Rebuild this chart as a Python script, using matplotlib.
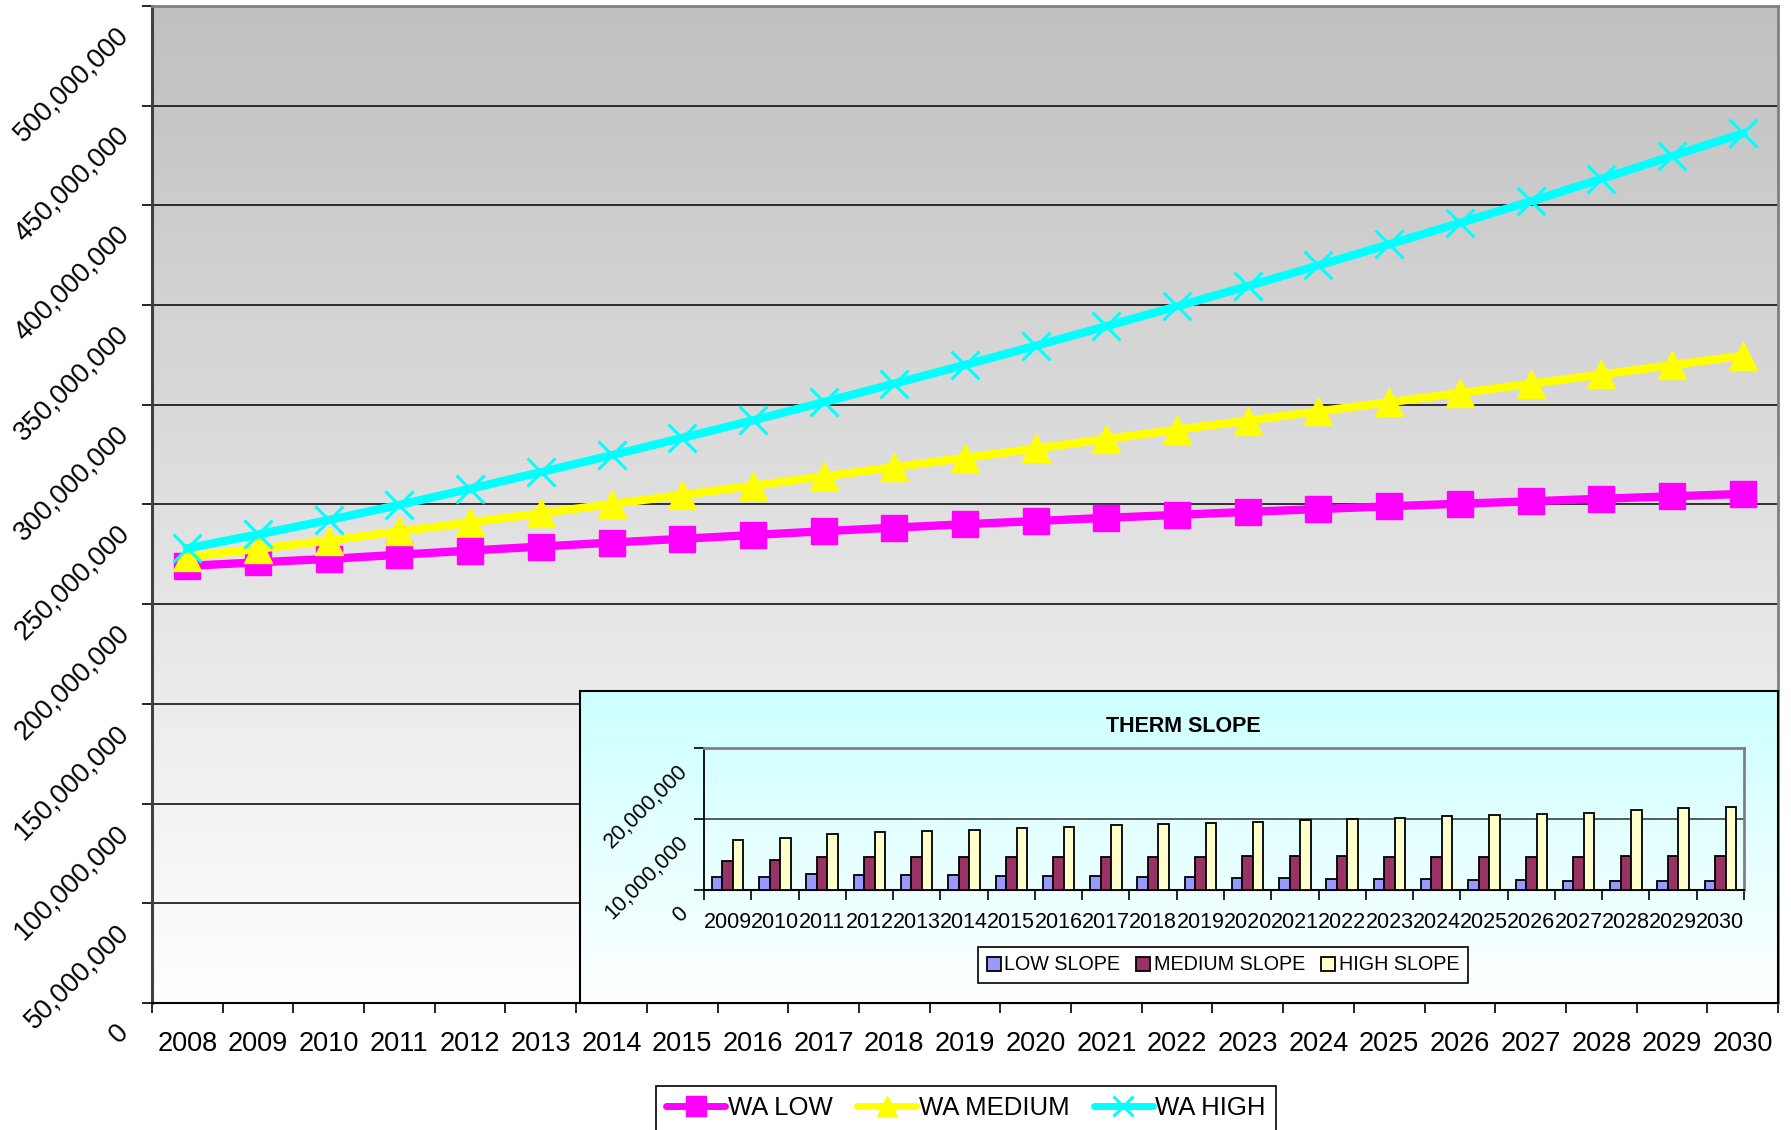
import numpy as np
import matplotlib
matplotlib.use("Agg")
import matplotlib.pyplot as plt
import matplotlib.transforms as mtransforms
from matplotlib.colors import LinearSegmentedColormap
from matplotlib.lines import Line2D
from matplotlib.patches import Patch

plt.rcParams['font.family'] = ['Liberation Sans', 'DejaVu Sans']

# Annual therm load, millions of therms
years = ['2008', '2009', '2010', '2011', '2012', '2013', '2014', '2015', '2016', '2017', '2018',
         '2019', '2020', '2021', '2022', '2023', '2024', '2025', '2026', '2027', '2028', '2029', '2030']
wa_low = [219.2, 221.0, 222.7, 224.8, 226.9, 228.9, 230.9, 232.8, 234.7, 236.6, 238.4, 240.1,
          241.7, 243.3, 244.8, 246.3, 247.7, 249.1, 250.4, 251.6, 252.9, 254.1, 255.3]
wa_medium = [223.7, 227.8, 231.9, 236.5, 241.0, 245.6, 250.2, 254.8, 259.4, 264.1, 268.7, 273.4,
             278.1, 282.8, 287.5, 292.1, 296.7, 301.3, 305.9, 310.5, 315.2, 319.9, 324.6]
wa_high = [228.0, 235.0, 242.2, 249.8, 257.9, 266.2, 274.7, 283.4, 292.2, 301.3, 310.6, 320.0,
           329.6, 339.4, 349.4, 359.5, 369.9, 380.5, 391.2, 402.0, 413.3, 424.7, 436.1]

# Year-over-year growth (therm slope), millions of therms
slope_years = ['2009', '2010', '2011', '2012', '2013', '2014', '2015', '2016', '2017', '2018', '2019',
               '2020', '2021', '2022', '2023', '2024', '2025', '2026', '2027', '2028', '2029', '2030']
low_slope = [1.82, 1.82, 2.19, 2.14, 2.10, 2.05, 2.00, 1.96, 1.91, 1.86, 1.77,
             1.67, 1.72, 1.53, 1.53, 1.49, 1.40, 1.35, 1.30, 1.30, 1.30, 1.21]
medium_slope = [4.15, 4.20, 4.62, 4.62, 4.66, 4.66, 4.66, 4.66, 4.71, 4.71, 4.71,
                4.79, 4.79, 4.74, 4.70, 4.70, 4.65, 4.65, 4.65, 4.74, 4.79, 4.79]
high_slope = [7.09, 7.37, 7.93, 8.11, 8.30, 8.48, 8.67, 8.86, 9.09, 9.28, 9.42,
              9.58, 9.81, 9.95, 10.19, 10.37, 10.56, 10.70, 10.88, 11.21, 11.49, 11.72]

W, H = 1791, 1130
fig = plt.figure(figsize=(W / 100, H / 100), dpi=100)


def frac(x0, y0, x1, y1):
    return [x0 / W, 1 - y1 / H, (x1 - x0) / W, (y1 - y0) / H]


def comma(v):
    return f"{v:,.0f}"


def tilt_labels(labels, dy_px):
    off = mtransforms.ScaledTranslation(0, -dy_px / 100, fig.dpi_scale_trans)
    for lab in labels:
        lab.set_rotation(45)
        lab.set_rotation_mode('anchor')
        lab.set_ha('right')
        lab.set_va('top')
        lab.set_transform(lab.get_transform() + off)


# ---------------- main line chart ----------------
ax = fig.add_axes(frac(152, 6, 1778, 1003))
ax.set_xlim(-0.5, len(years) - 0.5)
ax.set_ylim(0, 500e6)

grad = np.linspace(0, 1, 256).reshape(-1, 1)
bg = LinearSegmentedColormap.from_list('bg', ['#c0c0c0', '#ffffff'])
ax.imshow(grad, extent=[0, 1, 0, 1], transform=ax.transAxes, aspect='auto',
          cmap=bg, origin='upper', zorder=0)

yt = np.arange(0, 500e6 + 1, 50e6)
ax.set_yticks(yt)
ax.set_yticklabels([comma(v) for v in yt])
ax.yaxis.grid(True, color='black', lw=1.1, zorder=1)
ax.set_axisbelow(True)

ax.set_xticks(np.arange(-0.5, len(years), 1))
ax.set_xticklabels([])
ax.set_xticks(np.arange(len(years)), minor=True)
ax.set_xticklabels(years, minor=True, fontsize=19.5)
ax.tick_params(axis='x', which='major', length=7, width=1.2, direction='out')
ax.tick_params(axis='x', which='minor', length=0, pad=20)
ax.tick_params(axis='y', length=7, width=1.2, direction='out', labelsize=19.5, pad=19)
tilt_labels(ax.get_yticklabels(), 16)

for s in ('top', 'right'):
    ax.spines[s].set_color('#808080')
    ax.spines[s].set_linewidth(2)
ax.spines['left'].set_color('#404040')
ax.spines['left'].set_linewidth(2.2)
ax.spines['bottom'].set_color('black')
ax.spines['bottom'].set_linewidth(1.5)

x = np.arange(len(years))
ax.plot(x, np.array(wa_low) * 1e6, color='#ff00ff', lw=6, marker='s', ms=19,
        zorder=3, clip_on=False)
ax.plot(x, np.array(wa_medium) * 1e6, color='#ffff00', lw=6, marker='^', ms=20,
        zorder=4, clip_on=False)
ax.plot(x, np.array(wa_high) * 1e6, color='#00ffff', lw=6, marker='x', ms=20, mew=2.2,
        zorder=5, clip_on=False)

handles = [
    Line2D([], [], color='#ff00ff', lw=5, marker='s', ms=14, solid_capstyle='round'),
    Line2D([], [], color='#ffff00', lw=5, marker='^', ms=15, solid_capstyle='round'),
    Line2D([], [], color='#00ffff', lw=5, marker='x', ms=15, mew=2.2, solid_capstyle='round'),
]
leg = fig.legend(handles, ['WA LOW', 'WA MEDIUM', 'WA HIGH'], loc='upper center',
                 bbox_to_anchor=(966 / W, 1 - 1086 / H), ncol=3, fontsize=18.5,
                 frameon=True, fancybox=False, edgecolor='black', framealpha=1,
                 handlelength=2.3, handletextpad=0.1, columnspacing=0.95,
                 borderpad=0.4, borderaxespad=0)
leg.get_frame().set_linewidth(1.2)

# ---------------- inset: therm slope bars ----------------
box = fig.add_axes(frac(580, 691, 1778, 1003))
ibg = LinearSegmentedColormap.from_list('ibg', ['#ccffff', '#ffffff'])
box.imshow(grad, extent=[0, 1, 0, 1], transform=box.transAxes, aspect='auto',
           cmap=ibg, origin='upper')
box.set_xticks([])
box.set_yticks([])
for s in box.spines.values():
    s.set_color('black')
    s.set_linewidth(1.5)

fig.text(1183 / W, 1 - 727 / H, 'THERM SLOPE', ha='center', va='center',
         fontsize=15.5, fontweight='bold')

iax = fig.add_axes(frac(704, 748, 1744, 890))
iax.patch.set_alpha(0)
n = len(slope_years)
iax.set_xlim(-0.5, n - 0.5)
iax.set_ylim(0, 20e6)
xs = np.arange(n)
w = 0.222
iax.bar(xs - w, np.array(low_slope) * 1e6, w, color='#9999ff', edgecolor='black', lw=1.3, zorder=3)
iax.bar(xs, np.array(medium_slope) * 1e6, w, color='#993366', edgecolor='black', lw=1.3, zorder=3)
iax.bar(xs + w, np.array(high_slope) * 1e6, w, color='#ffffcc', edgecolor='black', lw=1.3, zorder=3)

iyt = [0, 10e6, 20e6]
iax.set_yticks(iyt)
iax.set_yticklabels([comma(v) for v in iyt])
iax.yaxis.grid(True, color='#303030', lw=1.1, zorder=1)
iax.set_axisbelow(True)
iax.set_xticks(np.arange(-0.5, n, 1))
iax.set_xticklabels([])
iax.set_xticks(xs, minor=True)
iax.set_xticklabels(slope_years, minor=True, fontsize=15.5)
iax.tick_params(axis='x', which='major', length=7, width=1.2)
iax.tick_params(axis='x', which='minor', length=0, pad=16)
iax.tick_params(axis='y', length=7, width=1.2, labelsize=15.5, pad=12)
tilt_labels(iax.get_yticklabels(), 13)
for s in ('top', 'right'):
    iax.spines[s].set_color('#808080')
    iax.spines[s].set_linewidth(2)
iax.spines['left'].set_color('black')
iax.spines['bottom'].set_color('black')
iax.spines['left'].set_linewidth(1.3)
iax.spines['bottom'].set_linewidth(1.5)

ihandles = [Patch(facecolor=c, edgecolor='black', lw=1.3) for c in ('#9999ff', '#993366', '#ffffcc')]
ileg = fig.legend(ihandles, ['LOW SLOPE', 'MEDIUM SLOPE', 'HIGH SLOPE'], loc='center',
                  bbox_to_anchor=(1223 / W, 1 - 965 / H), ncol=3, fontsize=14.2,
                  frameon=True, fancybox=False, edgecolor='black', framealpha=1,
                  handlelength=0.7, handleheight=0.7, handletextpad=0.2,
                  columnspacing=0.8, borderpad=0.45)
ileg.get_frame().set_linewidth(1.2)

fig.savefig('out.png', dpi=100)
